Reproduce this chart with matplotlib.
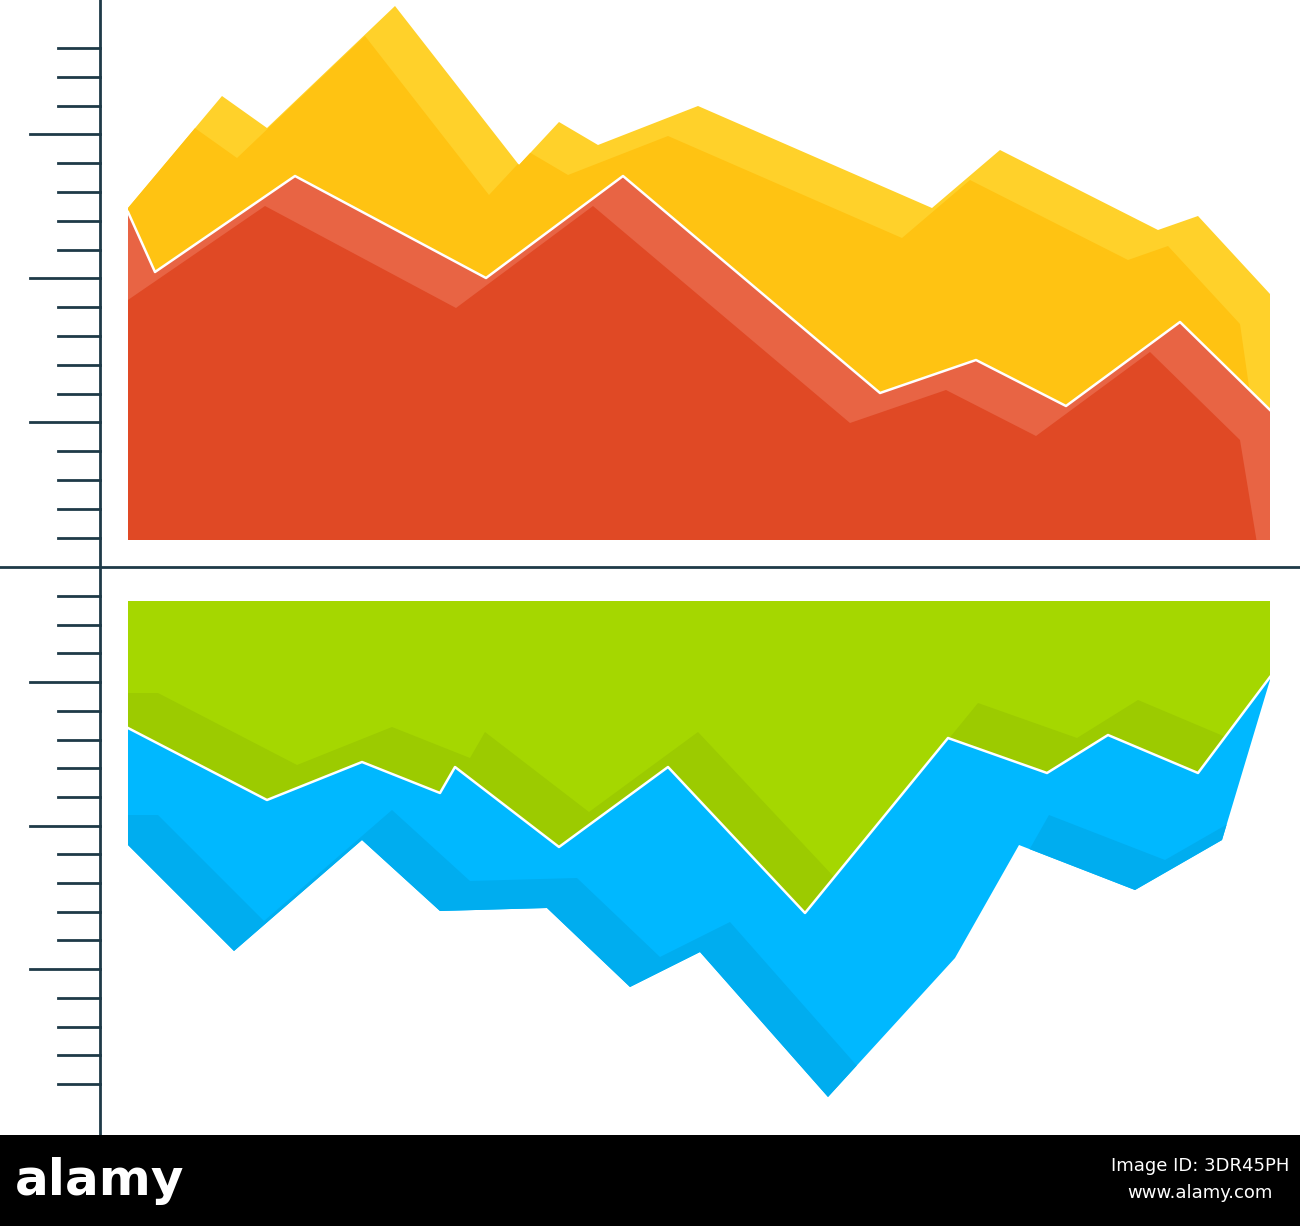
import matplotlib
matplotlib.use("Agg")
import matplotlib.pyplot as plt
import numpy as np
from matplotlib.patches import Polygon

yellow_x = [128,222,267,395,519,559,598,698,932,1000,1158,1198,1270]
yellow_y = [208,96,128,6,165,122,145,106,208,150,230,216,294]
red_x = [128,155,295,486,623,880,976,1066,1180,1270]
red_y = [212,272,176,278,176,393,360,406,322,410]
green_x = [128,1270]
green_y = [601,601]
bound_x = [128,267,362,440,455,559,668,805,948,1047,1108,1198,1270]
bound_y = [728,800,762,793,767,847,767,913,738,773,735,773,677]
blue_x = [128,234,362,440,547,630,700,828,955,1019,1135,1222,1270]
blue_y = [845,951,840,911,908,987,952,1097,958,845,890,840,680]
top_base = 540
ticks_top = np.arange(48, 540, 28.8)
ticks_bot = np.arange(596, 1090, 28.7)

fig = plt.figure(figsize=(13, 12.26), dpi=100)
ax = fig.add_axes([0, 0, 1, 1])
ax.set_xlim(0, 1300); ax.set_ylim(1226, 0); ax.axis("off")

def poly(xs, ys, color, z, clip=None, dx=0, dy=0):
    p = Polygon(np.column_stack([np.array(xs)+dx, np.array(ys)+dy]), closed=True,
                facecolor=color, edgecolor="none", zorder=z)
    ax.add_patch(p)
    if clip is not None:
        p.set_clip_path(clip)
    return p

# top: yellow
yx = yellow_x + red_x[::-1]; yy = yellow_y + red_y[::-1]
py = poly(yx, yy, "#FFD12A", 1)
poly(yellow_x + [1400, -100], yellow_y + [1200, 1200], "#FFC312", 1.5, clip=py, dx=-30, dy=30)
# red
rx = red_x + [1270, 128]; ry = red_y + [top_base, top_base]
pr = poly(rx, ry, "#E86444", 2)
poly(red_x + [1400, -100], red_y + [1200, 1200], "#E04925", 2.5, clip=pr, dx=-30, dy=30)
ax.plot(red_x, red_y, color="white", lw=1.8, zorder=3)

# bottom: green
gx = green_x + bound_x[::-1]; gy = green_y + bound_y[::-1]
pg = poly(gx, gy, "#A5D700", 1)
poly([-100] + bound_x + [1400, 1400, -100], [bound_y[0]] + bound_y + [bound_y[-1], 1200, 1200],
     "#9CCB00", 1.5, clip=pg, dx=30, dy=-35)
bx = bound_x + blue_x[::-1]; by = bound_y + blue_y[::-1]
pb = poly(bx, by, "#00B8FF", 2)
poly([-100] + blue_x + [1400, 1400, -100], [blue_y[0]] + blue_y + [blue_y[-1], 1200, 1200],
     "#00ADEF", 2.5, clip=pb, dx=30, dy=-30)
ax.plot(bound_x, bound_y, color="white", lw=1.8, zorder=3)

ac = "#1E3A48"
ax.plot([100, 100], [0, 1135], color=ac, lw=2, zorder=4)
ax.plot([0, 1300], [567, 567], color=ac, lw=2, zorder=4)
for ticks in (ticks_top, ticks_bot):
    for i, t in enumerate(ticks):
        x0 = 30 if i % 5 == 3 else 58
        ax.plot([x0, 100], [t, t], color=ac, lw=2, zorder=4)

ax.add_patch(plt.Rectangle((0, 1135), 1300, 91, facecolor="black", zorder=5))
ax.text(100, 1181, "alamy", color="white", fontsize=36, fontweight="bold",
        ha="center", va="center", zorder=6)
ax.text(1200, 1166, "Image ID: 3DR45PH", color="white", fontsize=13, ha="center", va="center", zorder=6)
ax.text(1200, 1193, "www.alamy.com", color="white", fontsize=13, ha="center", va="center", zorder=6)
fig.savefig("out.png", dpi=100, facecolor="white")
